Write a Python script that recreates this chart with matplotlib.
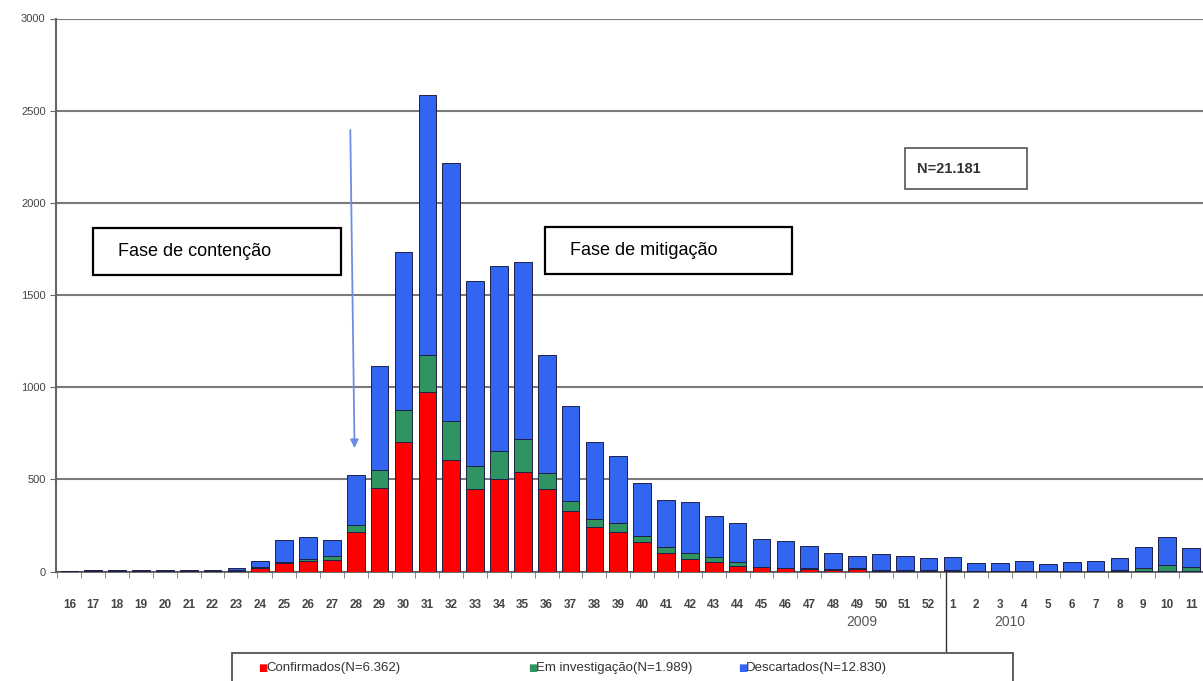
import matplotlib.pyplot as plt
from matplotlib.patches import Rectangle
import numpy as np

# semanas epidemiologicas 16/2009 ate 11/2010
weeks = [str(w) for w in range(16, 53)] + [str(w) for w in range(1, 12)]

confirmados = [3, 5, 5, 4, 4, 4, 4, 5, 20, 45, 55, 65, 212, 453, 702, 973,
               605, 450, 500, 542, 450, 330, 239, 212, 158, 98, 67, 49, 31, 22,
               18, 15, 8, 15, 5, 4, 3, 3, 2, 2, 2, 1, 1, 2, 2, 3, 3, 3]
investigacao = [0, 1, 1, 1, 1, 1, 1, 2, 5, 5, 12, 20, 42, 100, 176, 200,
                210, 122, 156, 178, 85, 54, 45, 49, 36, 36, 31, 31, 18, 5,
                3, 3, 3, 3, 3, 3, 3, 3, 3, 3, 3, 2, 2, 3, 5, 15, 30, 20]
descartados = [2, 4, 4, 3, 3, 3, 3, 13, 30, 120, 121, 85, 271, 562, 855, 1412,
               1403, 1006, 999, 960, 640, 512, 421, 368, 286, 254, 281, 223, 212, 152,
               142, 121, 89, 67, 86, 78, 65, 74, 42, 42, 51, 37, 46, 51, 64, 116, 155, 107]

labels = ['Confirmados(N=6.362)', 'Em investigação(N=1.989)', 'Descartados(N=12.830)']
colors = ['#ff0000', '#2f9462', '#3366f0']

W, H = 1203, 681
plt.rcParams['font.family'] = ['Liberation Sans', 'DejaVu Sans']
fig = plt.figure(figsize=(W / 100, H / 100), dpi=100)


def fx(px):
    return px / W


def fy(py):
    return 1 - py / H


ax = fig.add_axes([fx(56), fy(571.5), 1 - fx(56), fy(18.5) - fy(571.5)])

x = np.arange(len(weeks))
c = np.array(confirmados)
g = np.array(investigacao)
d = np.array(descartados)
edge = '#1e2048'
ax.bar(x, c, width=0.74, color=colors[0], edgecolor=edge, linewidth=0.7, zorder=3)
ax.bar(x, g, width=0.74, bottom=c, color=colors[1], edgecolor=edge, linewidth=0.7, zorder=3)
ax.bar(x, d, width=0.74, bottom=c + g, color=colors[2], edgecolor=edge, linewidth=0.7, zorder=3)

ax.set_xlim(-0.56, 47.44)
ax.set_ylim(0, 3000)
ax.set_yticks(range(0, 3001, 500))
ax.yaxis.grid(True, color='#7a7a7a', linewidth=1.5, zorder=0)
ax.set_axisbelow(True)
for s in ['top', 'right']:
    ax.spines[s].set_visible(False)
ax.spines['left'].set_color('#666666')
ax.spines['left'].set_linewidth(1.5)
ax.spines['bottom'].set_color('#555555')
ax.spines['bottom'].set_linewidth(1.2)
ax.tick_params(axis='y', labelsize=8, labelcolor='#444444', color='#666666', length=4)

ax.set_xticks(x)
ax.set_xticklabels(weeks, fontsize=8.5, fontweight='bold', color='#444444')
ax.set_xticks(np.arange(-0.5, 48, 1), minor=True)
ax.tick_params(axis='x', which='major', length=0, pad=20)
ax.tick_params(axis='x', which='minor', length=4, color='#777777')

# separador de anos
ax.plot([36.75, 36.75], [0, -0.152], transform=ax.get_xaxis_transform(),
        color='#333333', linewidth=1, clip_on=False)
fig.text(fx(862), fy(622), '2009', ha='center', va='center', fontsize=10, color='#555555')
fig.text(fx(1010), fy(622), '2010', ha='center', va='center', fontsize=10, color='#555555')

# seta inicio da mitigacao
ax.annotate('', xy=(11.95, 655), xytext=(11.77, 2410),
            arrowprops=dict(arrowstyle='-|>', color='#6d8ce6', lw=1.3,
                            mutation_scale=12), zorder=4)


def textbox(x0, y0, x1, y1, txt, tx, **kw):
    fig.patches.append(Rectangle((fx(x0), fy(y1)), fx(x1) - fx(x0), fy(y0) - fy(y1),
                                 transform=fig.transFigure, facecolor='white',
                                 edgecolor='black', linewidth=1.6, zorder=5))
    fig.text(fx(tx), fy((y0 + y1) / 2), txt, ha='left', va='center', zorder=6, **kw)


textbox(93, 228, 341, 275, 'Fase de contenção', 118, fontsize=13)
textbox(545, 227, 792, 274, 'Fase de mitigação', 570, fontsize=13)
fig.patches.append(Rectangle((fx(905), fy(189)), fx(122), fy(148) - fy(189),
                             transform=fig.transFigure, facecolor='white',
                             edgecolor='#555555', linewidth=1.2, zorder=5))
fig.text(fx(917), fy(169), 'N=21.181', ha='left', va='center', fontsize=10.5,
         fontweight='bold', color='#333333', zorder=6)

# legenda
fig.patches.append(Rectangle((fx(232), fy(700)), fx(1013 - 232), fy(653) - fy(700),
                             transform=fig.transFigure, facecolor='white',
                             edgecolor='#444444', linewidth=1.2, zorder=5))
leg_x = [258, 528, 738]
for lx, lab, col in zip(leg_x, labels, colors):
    fig.text(fx(lx), fy(668), '■', color=col, fontsize=7, ha='left', va='center',
             family=['DejaVu Sans'], zorder=6)
    fig.text(fx(lx + 8), fy(668), lab, color='#333333', fontsize=9.5, ha='left',
             va='center', zorder=6)

fig.savefig('out.png', dpi=100)
